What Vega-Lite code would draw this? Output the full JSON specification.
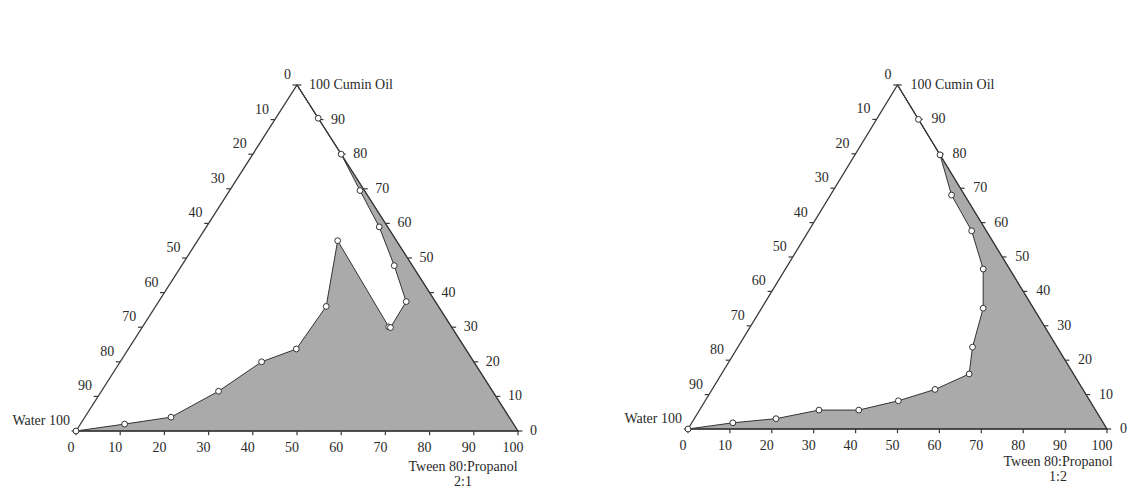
{
  "$schema": "https://vega.github.io/schema/vega-lite/v6.json",
  "padding": 0,
  "spacing": 0,
  "background": "white",
  "config": {
    "view": {"stroke": null},
    "title": {"font": "Liberation Serif", "fontSize": 14, "fontWeight": "normal", "color": "#2a2a2a", "lineHeight": 15}
  },
  "datasets": {
    "frame": [
      {"i": 0, "s": 0, "o": 0},
      {"i": 1, "s": 100, "o": 0},
      {"i": 2, "s": 0, "o": 100},
      {"i": 3, "s": 0, "o": 0}
    ],
    "ticks": [
      {"edge": "b", "v": 0, "label": "0"}, {"edge": "b", "v": 10, "label": "10"}, {"edge": "b", "v": 20, "label": "20"},
      {"edge": "b", "v": 30, "label": "30"}, {"edge": "b", "v": 40, "label": "40"}, {"edge": "b", "v": 50, "label": "50"},
      {"edge": "b", "v": 60, "label": "60"}, {"edge": "b", "v": 70, "label": "70"}, {"edge": "b", "v": 80, "label": "80"},
      {"edge": "b", "v": 90, "label": "90"}, {"edge": "b", "v": 100, "label": "100"},
      {"edge": "r", "v": 0, "label": "0"}, {"edge": "r", "v": 10, "label": "10"}, {"edge": "r", "v": 20, "label": "20"},
      {"edge": "r", "v": 30, "label": "30"}, {"edge": "r", "v": 40, "label": "40"}, {"edge": "r", "v": 50, "label": "50"},
      {"edge": "r", "v": 60, "label": "60"}, {"edge": "r", "v": 70, "label": "70"}, {"edge": "r", "v": 80, "label": "80"},
      {"edge": "r", "v": 90, "label": "90"}, {"edge": "r", "v": 100, "label": "100 Cumin Oil"},
      {"edge": "l", "v": 0, "label": "0"}, {"edge": "l", "v": 10, "label": "10"}, {"edge": "l", "v": 20, "label": "20"},
      {"edge": "l", "v": 30, "label": "30"}, {"edge": "l", "v": 40, "label": "40"}, {"edge": "l", "v": 50, "label": "50"},
      {"edge": "l", "v": 60, "label": "60"}, {"edge": "l", "v": 70, "label": "70"}, {"edge": "l", "v": 80, "label": "80"},
      {"edge": "l", "v": 90, "label": "90"}, {"edge": "l", "v": 100, "label": "Water 100"}
    ],
    "regL": [
      {"i": 0, "s": 0, "o": 0, "m": 1},
      {"i": 1, "s": 10, "o": 2, "m": 1},
      {"i": 2, "s": 19.5, "o": 4, "m": 1},
      {"i": 3, "s": 26.5, "o": 11.5, "m": 1},
      {"i": 4, "s": 32, "o": 20, "m": 1},
      {"i": 5, "s": 38, "o": 23.7, "m": 1},
      {"i": 6, "s": 38.6, "o": 36, "m": 1},
      {"i": 7, "s": 31.7, "o": 55, "m": 1},
      {"i": 8, "s": 55.7, "o": 30.1, "m": 1},
      {"i": 9, "s": 56.2, "o": 29.9, "m": 1},
      {"i": 10, "s": 56, "o": 37.4, "m": 1},
      {"i": 11, "s": 48.1, "o": 47.8, "m": 1},
      {"i": 12, "s": 39.1, "o": 59, "m": 1},
      {"i": 13, "s": 29.5, "o": 69.5, "m": 1},
      {"i": 14, "s": 20, "o": 80, "m": 1},
      {"i": 15, "s": 9.6, "o": 90.4, "m": 1},
      {"i": 16, "s": 0, "o": 100, "m": 0},
      {"i": 17, "s": 100, "o": 0, "m": 0},
      {"i": 18, "s": 0, "o": 0, "m": 0}
    ],
    "regR": [
      {"i": 0, "s": 0, "o": 0, "m": 1},
      {"i": 1, "s": 9.8, "o": 1.8, "m": 1},
      {"i": 2, "s": 19.5, "o": 3, "m": 1},
      {"i": 3, "s": 28.5, "o": 5.5, "m": 1},
      {"i": 4, "s": 38, "o": 5.5, "m": 1},
      {"i": 5, "s": 46.1, "o": 8.2, "m": 1},
      {"i": 6, "s": 53.2, "o": 11.5, "m": 1},
      {"i": 7, "s": 59.1, "o": 16, "m": 1},
      {"i": 8, "s": 56, "o": 23.8, "m": 1},
      {"i": 9, "s": 52.9, "o": 35.1, "m": 1},
      {"i": 10, "s": 47.2, "o": 46.5, "m": 1},
      {"i": 11, "s": 38.9, "o": 57.6, "m": 1},
      {"i": 12, "s": 28.9, "o": 68, "m": 1},
      {"i": 13, "s": 20.3, "o": 79.7, "m": 1},
      {"i": 14, "s": 10, "o": 90, "m": 1},
      {"i": 15, "s": 0, "o": 100, "m": 0},
      {"i": 16, "s": 100, "o": 0, "m": 0},
      {"i": 17, "s": 0, "o": 0, "m": 0}
    ]
  },
  "hconcat": [
    {
      "width": 565,
      "height": 489,
      "title": {"text": ["Tween 80:Propanol", "2:1"], "orient": "bottom", "anchor": "end", "align": "center", "dx": -102, "offset": -29, "frame": "group"},
      "encoding": {
        "x": {"field": "x", "type": "quantitative", "axis": null, "scale": {"domain": [-17.195, 110.633], "nice": false, "zero": false}},
        "y": {"field": "y", "type": "quantitative", "axis": null, "scale": {"domain": [-16.763, 124.566], "nice": false, "zero": false}}
      },
      "layer": [
        {
          "data": {"name": "regL"},
          "transform": [{"calculate": "datum.s + datum.o / 2", "as": "x"}, {"calculate": "datum.o", "as": "y"}],
          "mark": {"type": "line", "fill": "#aaaaaa", "stroke": "#333333", "strokeWidth": 1},
          "encoding": {"order": {"field": "i", "type": "quantitative"}}
        },
        {
          "data": {"name": "frame"},
          "transform": [{"calculate": "datum.s + datum.o / 2", "as": "x"}, {"calculate": "datum.o", "as": "y"}],
          "mark": {"type": "line", "stroke": "#3a3a3a", "strokeWidth": 1.3},
          "encoding": {"order": {"field": "i", "type": "quantitative"}}
        },
        {
          "data": {"name": "ticks"},
          "transform": [
            {"calculate": "datum.edge == 'b' ? datum.v : datum.edge == 'r' ? 100 - datum.v / 2 : (100 - datum.v) / 2", "as": "x"},
            {"calculate": "datum.edge == 'b' ? 0 : datum.edge == 'r' ? datum.v : 100 - datum.v", "as": "y"},
            {"calculate": "datum.edge == 'b' ? datum.x : datum.edge == 'r' ? datum.x + 1 : datum.x - 1", "as": "x2"},
            {"calculate": "datum.edge == 'b' ? -1.2 : datum.y", "as": "y2"}
          ],
          "mark": {"type": "rule", "stroke": "#3a3a3a", "strokeWidth": 1.2},
          "encoding": {"x2": {"field": "x2"}, "y2": {"field": "y2"}}
        },
        {
          "data": {"name": "regL"},
          "transform": [{"filter": "datum.m == 1"}, {"calculate": "datum.s + datum.o / 2", "as": "x"}, {"calculate": "datum.o", "as": "y"}],
          "mark": {"type": "point", "shape": "circle", "filled": true, "fill": "white", "stroke": "#333333", "strokeWidth": 1, "size": 34, "opacity": 1}
        },
        {
          "data": {"name": "ticks"},
          "transform": [{"filter": "datum.edge == 'b'"}, {"calculate": "datum.v", "as": "x"}, {"calculate": "0", "as": "y"}],
          "mark": {"type": "text", "font": "Liberation Serif", "fontSize": 14, "fill": "#2a2a2a", "align": "center", "baseline": "middle", "dx": -5, "dy": 17},
          "encoding": {"text": {"field": "label"}}
        },
        {
          "data": {"name": "ticks"},
          "transform": [{"filter": "datum.edge == 'r'"}, {"calculate": "100 - datum.v / 2", "as": "x"}, {"calculate": "datum.v", "as": "y"}],
          "mark": {"type": "text", "font": "Liberation Serif", "fontSize": 14, "fill": "#2a2a2a", "align": "left", "baseline": "middle", "dx": 12, "dy": 0},
          "encoding": {"text": {"field": "label"}}
        },
        {
          "data": {"name": "ticks"},
          "transform": [{"filter": "datum.edge == 'l'"}, {"calculate": "(100 - datum.v) / 2", "as": "x"}, {"calculate": "100 - datum.v", "as": "y"}],
          "mark": {"type": "text", "font": "Liberation Serif", "fontSize": 14, "fill": "#2a2a2a", "align": "right", "baseline": "middle", "dx": -6, "dy": -10},
          "encoding": {"text": {"field": "label"}}
        }
      ]
    },
    {
      "width": 565,
      "height": 489,
      "title": {"text": ["Tween 80:Propanol", "1:2"], "orient": "bottom", "anchor": "end", "align": "center", "dx": -72, "offset": -34, "frame": "group"},
      "encoding": {
        "x": {"field": "x", "type": "quantitative", "axis": null, "scale": {"domain": [-29.356, 105.489], "nice": false, "zero": false}},
        "y": {"field": "y", "type": "quantitative", "axis": null, "scale": {"domain": [-17.442, 124.709], "nice": false, "zero": false}}
      },
      "layer": [
        {
          "data": {"name": "regR"},
          "transform": [{"calculate": "datum.s + datum.o / 2", "as": "x"}, {"calculate": "datum.o", "as": "y"}],
          "mark": {"type": "line", "fill": "#aaaaaa", "stroke": "#333333", "strokeWidth": 1},
          "encoding": {"order": {"field": "i", "type": "quantitative"}}
        },
        {
          "data": {"name": "frame"},
          "transform": [{"calculate": "datum.s + datum.o / 2", "as": "x"}, {"calculate": "datum.o", "as": "y"}],
          "mark": {"type": "line", "stroke": "#3a3a3a", "strokeWidth": 1.3},
          "encoding": {"order": {"field": "i", "type": "quantitative"}}
        },
        {
          "data": {"name": "ticks"},
          "transform": [
            {"calculate": "datum.edge == 'b' ? datum.v : datum.edge == 'r' ? 100 - datum.v / 2 : (100 - datum.v) / 2", "as": "x"},
            {"calculate": "datum.edge == 'b' ? 0 : datum.edge == 'r' ? datum.v : 100 - datum.v", "as": "y"},
            {"calculate": "datum.edge == 'b' ? datum.x : datum.edge == 'r' ? datum.x + 1 : datum.x - 1", "as": "x2"},
            {"calculate": "datum.edge == 'b' ? -1.2 : datum.y", "as": "y2"}
          ],
          "mark": {"type": "rule", "stroke": "#3a3a3a", "strokeWidth": 1.2},
          "encoding": {"x2": {"field": "x2"}, "y2": {"field": "y2"}}
        },
        {
          "data": {"name": "regR"},
          "transform": [{"filter": "datum.m == 1"}, {"calculate": "datum.s + datum.o / 2", "as": "x"}, {"calculate": "datum.o", "as": "y"}],
          "mark": {"type": "point", "shape": "circle", "filled": true, "fill": "white", "stroke": "#333333", "strokeWidth": 1, "size": 34, "opacity": 1}
        },
        {
          "data": {"name": "ticks"},
          "transform": [{"filter": "datum.edge == 'b'"}, {"calculate": "datum.v", "as": "x"}, {"calculate": "0", "as": "y"}],
          "mark": {"type": "text", "font": "Liberation Serif", "fontSize": 14, "fill": "#2a2a2a", "align": "center", "baseline": "middle", "dx": -5, "dy": 17},
          "encoding": {"text": {"field": "label"}}
        },
        {
          "data": {"name": "ticks"},
          "transform": [{"filter": "datum.edge == 'r'"}, {"calculate": "100 - datum.v / 2", "as": "x"}, {"calculate": "datum.v", "as": "y"}],
          "mark": {"type": "text", "font": "Liberation Serif", "fontSize": 14, "fill": "#2a2a2a", "align": "left", "baseline": "middle", "dx": 13, "dy": 0},
          "encoding": {"text": {"field": "label"}}
        },
        {
          "data": {"name": "ticks"},
          "transform": [{"filter": "datum.edge == 'l'"}, {"calculate": "(100 - datum.v) / 2", "as": "x"}, {"calculate": "100 - datum.v", "as": "y"}],
          "mark": {"type": "text", "font": "Liberation Serif", "fontSize": 14, "fill": "#2a2a2a", "align": "right", "baseline": "middle", "dx": -6, "dy": -10},
          "encoding": {"text": {"field": "label"}}
        }
      ]
    }
  ]
}
